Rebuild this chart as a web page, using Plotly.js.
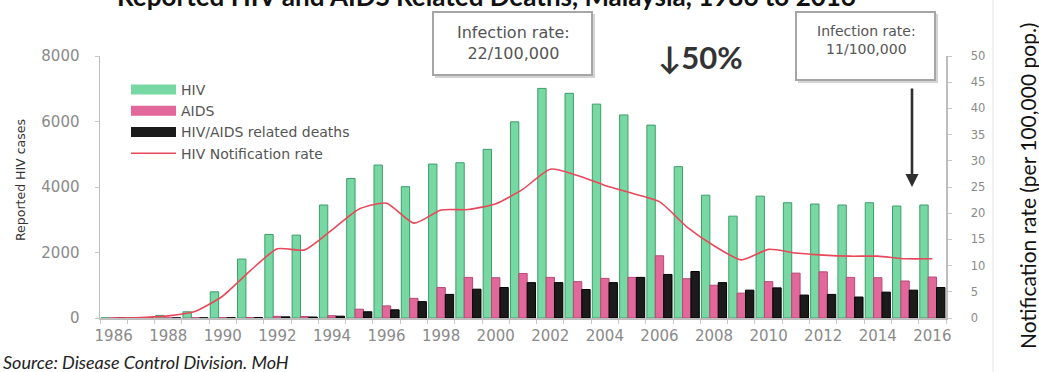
<!DOCTYPE html>
<html>
<head>
<meta charset="utf-8">
<script src="https://cdn.plot.ly/plotly-3.0.1.min.js"></script>
<style>
  html, body { margin: 0; padding: 0; background: #ffffff; }
  #chart { width: 1039px; height: 372px; }
</style>
</head>
<body>
<div id="chart"></div>
<script>
// Reported HIV, AIDS and HIV/AIDS related deaths in Malaysia, 1986-2016
const years = ['1986','1987','1988','1989','1990','1991','1992','1993','1994','1995','1996',
               '1997','1998','1999','2000','2001','2002','2003','2004','2005','2006',
               '2007','2008','2009','2010','2011','2012','2013','2014','2015','2016'];

const yearTickText = ['1986','','1988','','1990','','1992','','1994','','1996',
                      '','1998','','2000','','2002','','2004','','2006',
                      '','2008','','2010','','2012','','2014','','2016'];

const hivCases = [3, 9, 79, 190, 800, 1800, 2550, 2530, 3450, 4260, 4670,
                  4010, 4700, 4740, 5150, 5990, 7010, 6860, 6530, 6200, 5890,
                  4620, 3750, 3110, 3720, 3520, 3480, 3450, 3520, 3420, 3450];

const aidsCases = [2, 3, 5, 8, 10, 15, 50, 45, 70, 270, 370,
                   600, 930, 1240, 1230, 1360, 1240, 1110, 1210, 1240, 1900,
                   1200, 1000, 760, 1110, 1370, 1410, 1240, 1230, 1130, 1250];

const relatedDeaths = [1, 2, 3, 5, 8, 12, 35, 30, 55, 190, 250,
                       500, 720, 880, 930, 1080, 1080, 870, 1080, 1240, 1330,
                       1420, 1080, 850, 920, 700, 720, 640, 790, 850, 930];

const notificationRate = [0.0, 0.1, 0.4, 1.3, 4.2, 9.0, 13.2, 13.0, 16.8, 20.8, 21.9,
                          18.1, 20.6, 20.7, 21.8, 24.6, 28.4, 27.2, 25.3, 23.8, 22.2,
                          17.4, 13.8, 11.1, 13.1, 12.4, 12.0, 11.8, 11.8, 11.3, 11.3];

const leftTicks = [0, 2000, 4000, 6000, 8000];
const rightTicks = [0, 5, 10, 15, 20, 25, 30, 35, 40, 45, 50];

// plot frame in pixels (left, right, top, bottom)
const W = 1039, H = 372;
const PL = 100, PR = 946, PT = 56, PB = 318;
const px = p => (p - PL) / (PR - PL);
const py = p => (PB - p) / (PB - PT);

const colHIV = '#78d8a3', colHIVEdge = '#3f9d6a';
const colAIDS = '#e2679a', colAIDSEdge = '#b84a75';
const colDeath = '#1b1b1b';
const colRate = '#e8485a';

const tickFont = { family: 'DejaVu Sans', size: 15, color: '#8a8a8a' };

const traces = [
  { type: 'bar', name: 'HIV', x: years, y: hivCases, showlegend: false,
    marker: { color: colHIV, line: { color: colHIVEdge, width: 1 } }, hoverinfo: 'x+y' },
  { type: 'bar', name: 'AIDS', x: years, y: aidsCases, showlegend: false,
    marker: { color: colAIDS, line: { color: colAIDSEdge, width: 1 } }, hoverinfo: 'x+y' },
  { type: 'bar', name: 'HIV/AIDS related deaths', x: years, y: relatedDeaths, showlegend: false,
    marker: { color: colDeath, line: { color: '#000000', width: 1 } }, hoverinfo: 'x+y' },
  { type: 'scatter', mode: 'lines', name: 'HIV Notification rate', x: years, y: notificationRate,
    yaxis: 'y2', showlegend: false,
    line: { color: colRate, width: 1.6, shape: 'spline', smoothing: 0.6 } },
  // legend keys drawn as wide blocks
  { type: 'scatter', mode: 'lines', name: 'HIV', x: [null], y: [null],
    line: { color: colHIV, width: 10 }, hoverinfo: 'skip' },
  { type: 'scatter', mode: 'lines', name: 'AIDS', x: [null], y: [null],
    line: { color: colAIDS, width: 10 }, hoverinfo: 'skip' },
  { type: 'scatter', mode: 'lines', name: 'HIV/AIDS related deaths', x: [null], y: [null],
    line: { color: colDeath, width: 10 }, hoverinfo: 'skip' },
  { type: 'scatter', mode: 'lines', name: 'HIV Notification rate', x: [null], y: [null],
    line: { color: colRate, width: 1.6 }, hoverinfo: 'skip' }
];

const layout = {
  width: W, height: H,
  margin: { l: PL, r: W - PR, t: PT, b: H - PB, pad: 0 },
  paper_bgcolor: '#ffffff', plot_bgcolor: '#ffffff',
  barmode: 'group', bargap: 0.08, bargroupgap: 0,
  showlegend: true,
  legend: {
    x: px(126), y: py(74), xanchor: 'left', yanchor: 'top',
    bgcolor: 'rgba(0,0,0,0)', borderwidth: 0, itemwidth: 45,
    tracegroupgap: 0, traceorder: 'normal',
    font: { family: 'DejaVu Sans', size: 14, color: '#555555' }
  },
  xaxis: {
    type: 'category', range: [-0.5, 30.5],
    tickmode: 'array', tickvals: years, ticktext: yearTickText,
    tickson: 'boundaries', ticks: 'outside', ticklen: 4, tickcolor: '#c8c8c8',
    showline: true, linecolor: '#bdbdbd', linewidth: 1.5,
    showgrid: false, zeroline: false, tickangle: 0, ticklabelstandoff: 3,
    tickfont: tickFont
  },
  yaxis: {
    range: [0, 8000], tickmode: 'array', tickvals: leftTicks,
    ticks: 'outside', ticklen: 4, tickcolor: '#c8c8c8',
    showline: true, linecolor: '#bdbdbd', linewidth: 1.5,
    showgrid: false, zeroline: false, ticklabelstandoff: 12,
    tickfont: tickFont
  },
  yaxis2: {
    overlaying: 'y', side: 'right', range: [0, 50],
    tickmode: 'array', tickvals: rightTicks,
    ticks: 'outside', ticklen: 4, tickcolor: '#c8c8c8',
    showline: true, linecolor: '#bdbdbd', linewidth: 1.5,
    showgrid: false, zeroline: false, ticklabelstandoff: 17,
    tickfont: { family: 'DejaVu Sans', size: 11.5, color: '#8a8a8a' }
  },
  shapes: [
    // faint edge to the right of the chart
    { type: 'line', xref: 'paper', yref: 'paper', x0: px(993), x1: px(993), y0: py(0), y1: py(H),
      line: { color: '#e6e6e6', width: 1 } },
    // call-out boxes with soft shadow
    { type: 'rect', xref: 'paper', yref: 'paper', x0: px(435), x1: px(595), y0: py(14), y1: py(78),
      line: { width: 0 }, fillcolor: '#d4d4d4' },
    { type: 'rect', xref: 'paper', yref: 'paper', x0: px(433), x1: px(592), y0: py(12), y1: py(75),
      line: { color: '#a6a6a6', width: 2 }, fillcolor: '#ffffff' },
    { type: 'rect', xref: 'paper', yref: 'paper', x0: px(798), x1: px(938), y0: py(14), y1: py(83),
      line: { width: 0 }, fillcolor: '#d4d4d4' },
    { type: 'rect', xref: 'paper', yref: 'paper', x0: px(796), x1: px(935), y0: py(12), y1: py(80),
      line: { color: '#a6a6a6', width: 2 }, fillcolor: '#ffffff' }
  ],
  annotations: [
    { text: '<b>Reported HIV and AIDS Related Deaths, Malaysia, 1986 to 2016</b>',
      xref: 'paper', yref: 'paper', x: px(486), y: py(-4), xanchor: 'center', yanchor: 'middle',
      showarrow: false, font: { family: 'Lato', size: 26, color: '#111111' } },
    { text: 'Infection rate:<br>22/100,000', xref: 'paper', yref: 'paper',
      x: px(513), y: py(43), xanchor: 'center', yanchor: 'middle', showarrow: false,
      font: { family: 'DejaVu Sans', size: 16, color: '#555555' }, align: 'center' },
    { text: '<b>↓50%</b>', xref: 'paper', yref: 'paper',
      x: px(700), y: py(57), xanchor: 'center', yanchor: 'middle', showarrow: false,
      font: { family: 'Lato, DejaVu Sans', size: 31, color: '#333333' } },
    { text: 'Infection rate:<br>11/100,000', xref: 'paper', yref: 'paper',
      x: px(866), y: py(40), xanchor: 'center', yanchor: 'middle', showarrow: false,
      font: { family: 'DejaVu Sans', size: 14, color: '#555555' }, align: 'center' },
    { text: '', xref: 'paper', yref: 'paper', x: px(912), y: py(187),
      ax: 0, ay: -100, showarrow: true, arrowhead: 2, arrowsize: 1, arrowwidth: 2.6,
      arrowcolor: '#2e2e2e', standoff: 0, startstandoff: 0 },
    { text: 'Reported HIV cases', xref: 'paper', yref: 'paper',
      x: px(20), y: py(180), xanchor: 'center', yanchor: 'middle', textangle: -90,
      showarrow: false, font: { family: 'DejaVu Sans', size: 12.5, color: '#333333' } },
    { text: 'Notification rate (per 100,000 pop.)', xref: 'paper', yref: 'paper',
      x: px(1027), y: py(186), xanchor: 'center', yanchor: 'middle', textangle: -90,
      showarrow: false, font: { family: 'Lato', size: 21, color: '#111111' } },
    { text: 'Source: Disease Control Division. MoH', xref: 'paper', yref: 'paper',
      x: px(1), y: py(362), xanchor: 'left', yanchor: 'middle', showarrow: false,
      font: { family: 'Lato', size: 18, color: '#222222', style: 'italic' } }
  ]
};

Plotly.newPlot('chart', traces, layout, { displayModeBar: false, staticPlot: true });
</script>
</body>
</html>
